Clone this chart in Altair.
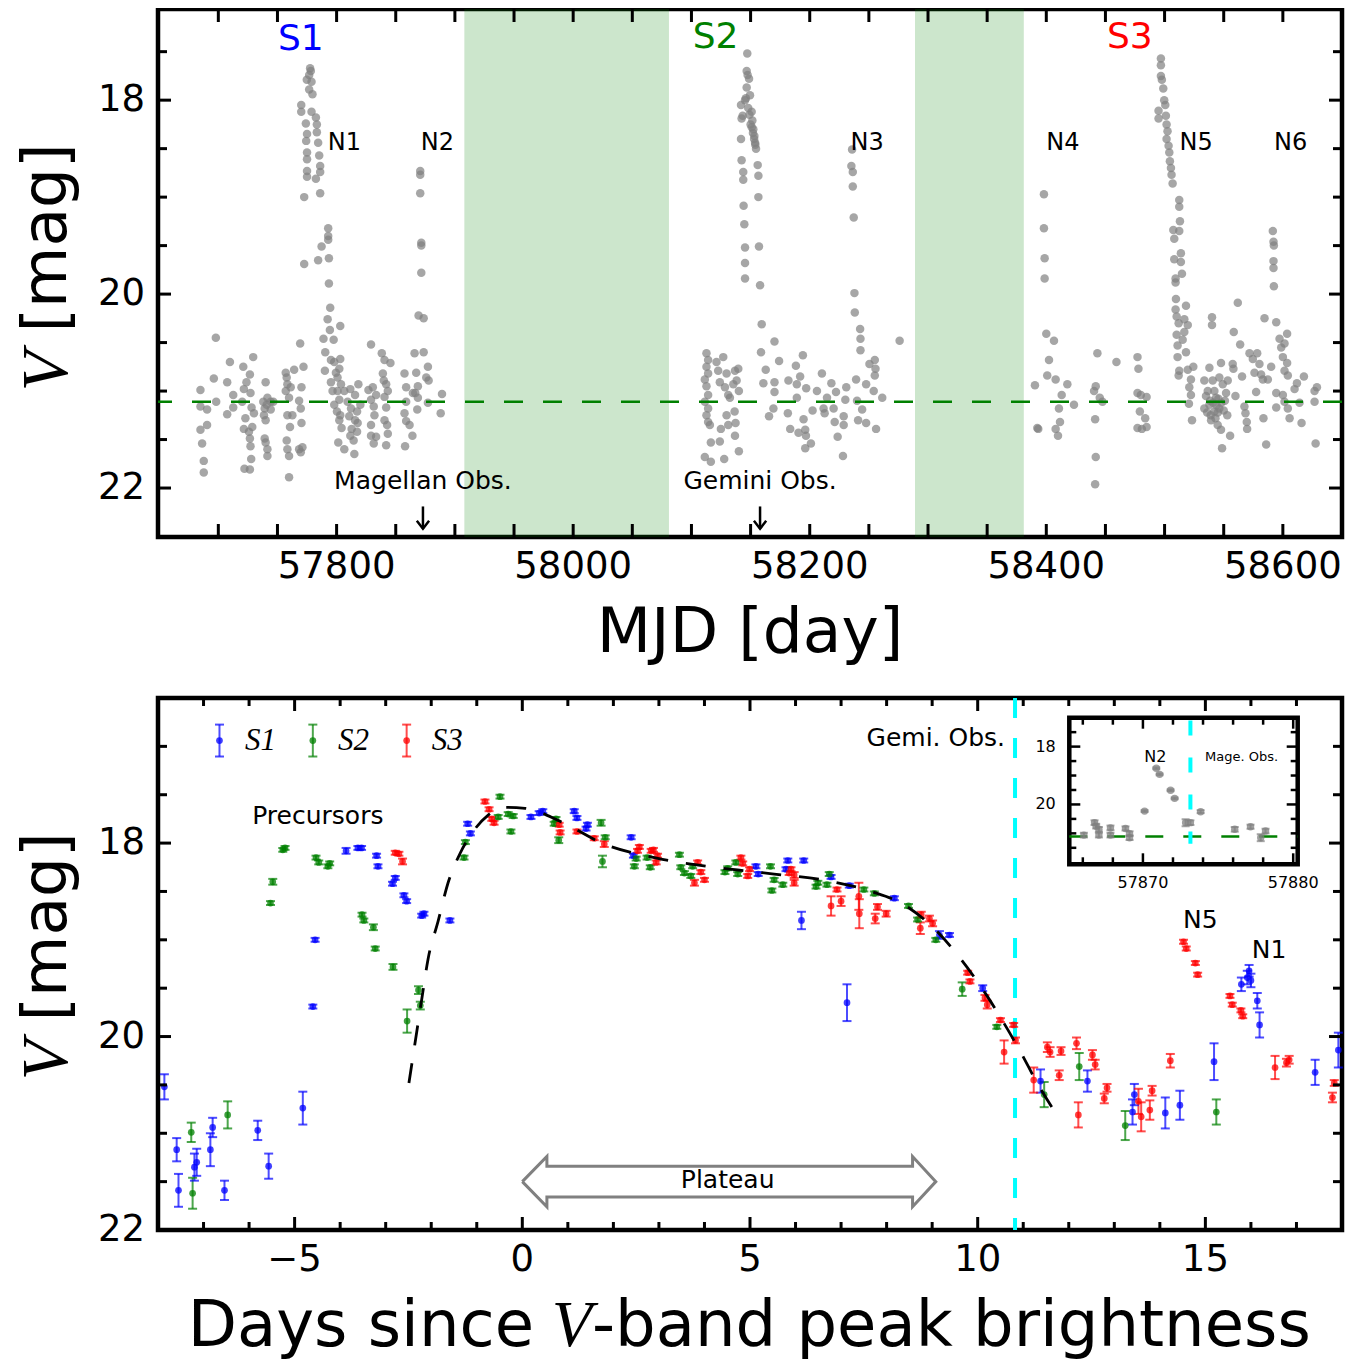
import altair as alt
import pandas as pd

W, H1, H2 = 1184, 528, 532
FONT = "DejaVu Sans"
SERIF = "Liberation Serif"

# ---------------- top panel data (MJD, V mag) ----------------
season1 = [
    (57684.9, 20.99), (57684.9, 21.16), (57690.5, 21.19), (57684.9, 21.40), (57690.5, 21.35), (57686.3, 21.54),
    (57687.7, 21.72), (57687.7, 21.84), (57696.2, 20.87), (57697.9, 20.45), (57698.2, 21.11), (57707.5, 20.91),
    (57707.5, 21.24), (57709.8, 20.70), (57712.6, 21.04), (57712.6, 21.17), (57721.1, 20.75), (57720.2, 21.11),
    (57721.6, 20.98), (57722.9, 21.28), (57721.6, 21.39), (57722.1, 21.80), (57723.8, 20.91), (57726.7, 20.83),
    (57727.2, 21.02), (57726.7, 21.81), (57728.1, 21.17), (57728.7, 21.37), (57725.9, 21.42), (57727.2, 21.57),
    (57727.8, 21.70), (57729.5, 20.65), (57730.1, 21.23), (57726.7, 21.49), (57738.0, 21.11), (57740.0, 20.91),
    (57739.2, 21.18), (57738.6, 21.25), (57740.0, 21.30), (57740.9, 21.14), (57741.5, 21.07), (57739.2, 21.49),
    (57740.0, 21.53), (57741.5, 21.60), (57741.5, 21.67), (57744.3, 21.19), (57746.5, 21.11), (57744.3, 21.11),
    (57757.0, 20.81), (57757.8, 20.86), (57758.4, 20.93), (57757.0, 21.00), (57759.8, 21.07), (57761.2, 20.96),
    (57758.4, 21.25), (57760.6, 21.37), (57757.8, 21.51), (57758.4, 21.60), (57759.8, 21.67), (57759.8, 21.89),
    (57764.1, 20.78), (57762.6, 21.25), (57769.2, 20.51), (57772.0, 20.75), (57770.3, 20.96), (57768.3, 21.10),
    (57769.7, 21.18), (57770.3, 21.33), (57768.3, 21.60), (57769.7, 21.63), (57771.1, 21.58),
    (57777.6, 17.67), (57778.2, 17.70), (57776.8, 17.74), (57778.8, 17.81), (57774.8, 17.79), (57776.8, 17.89),
    (57779.6, 17.94), (57770.1, 18.05), (57770.1, 18.12), (57778.8, 18.12), (57782.5, 18.18), (57783.3, 18.25),
    (57774.0, 18.24), (57783.3, 18.33), (57775.0, 18.35), (57774.3, 18.42), (57784.4, 18.44), (57775.0, 18.54),
    (57785.3, 18.57), (57775.0, 18.61), (57786.1, 18.68), (57775.0, 18.73), (57786.1, 18.74), (57775.0, 18.79),
    (57782.5, 18.81), (57786.1, 18.96), (57772.6, 19.00), (57772.6, 19.69), (57784.4, 19.65), (57787.3, 19.51),
    (57792.9, 19.32), (57792.9, 19.40), (57792.9, 19.44), (57793.5, 19.63), (57793.5, 19.89), (57794.6, 20.14),
    (57792.4, 20.26), (57794.3, 20.37), (57788.9, 20.46), (57797.5, 20.47), (57803.1, 20.33), (57790.4, 20.60),
    (57795.2, 20.68), (57790.1, 20.79), (57798.0, 20.70), (57803.1, 20.67), (57795.2, 20.91), (57796.6, 21.00),
    (57799.4, 20.81), (57802.3, 20.77), (57800.8, 20.86), (57803.7, 20.93), (57800.8, 21.00), (57802.3, 21.09),
    (57798.0, 21.14), (57800.3, 21.21), (57803.1, 21.25), (57802.3, 21.30), (57804.2, 21.38), (57801.4, 21.53),
    (57806.5, 21.60), (57806.5, 21.00), (57809.3, 21.11), (57811.6, 20.98), (57812.2, 21.18), (57810.7, 21.26),
    (57812.7, 21.39), (57811.6, 21.46), (57814.4, 21.51), (57815.0, 21.65), (57815.6, 21.04), (57817.3, 21.21),
    (57817.8, 21.33), (57818.4, 20.93), (57820.1, 21.14), (57815.6, 21.30), (57817.3, 21.42), (57829.1, 20.52),
    (57826.9, 20.99), (57829.1, 21.09), (57830.6, 20.96), (57831.4, 21.16), (57832.0, 21.25), (57829.1, 21.35),
    (57829.1, 21.46), (57831.4, 21.54), (57833.4, 21.47), (57833.4, 21.04), (57838.2, 20.61), (57839.1, 20.82),
    (57839.9, 20.89), (57840.5, 20.68), (57841.9, 20.93), (57840.5, 21.06), (57841.9, 21.17), (57840.5, 21.30),
    (57842.7, 21.35), (57843.3, 21.44), (57841.9, 21.56), (57845.5, 20.71), (57843.3, 21.00), (57857.4, 20.82),
    (57858.8, 20.96), (57858.8, 21.11), (57857.4, 21.23), (57858.8, 21.31), (57861.7, 21.35), (57857.9, 21.57),
    (57864.1, 21.46), (57865.9, 20.61), (57867.3, 20.81), (57868.7, 20.95), (57866.5, 21.02), (57868.7, 21.07),
    (57868.2, 21.19), (57873.6, 20.60), (57875.8, 20.86), (57877.2, 20.75), (57877.8, 20.89), (57877.2, 21.12),
    (57864.5, 21.02), (57870.7, 18.73), (57870.7, 18.77), (57870.7, 18.96), (57871.6, 19.47), (57871.6, 19.50),
    (57871.6, 19.78), (57869.3, 20.22), (57873.6, 20.25), (57889.1, 21.03), (57888.0, 21.23),
]
season2 = [
    (58112.7, 20.61), (58114.1, 20.68), (58112.7, 20.75), (58114.1, 20.82), (58111.3, 20.88), (58112.7, 20.95),
    (58114.1, 21.04), (58111.3, 21.11), (58114.1, 21.18), (58112.7, 21.25), (58114.1, 21.32), (58115.6, 21.35),
    (58111.3, 21.68), (58116.4, 21.73), (58116.4, 21.53), (58121.2, 20.70), (58122.6, 20.79), (58124.0, 20.91),
    (58126.9, 20.65), (58128.3, 20.96), (58129.7, 20.82), (58131.1, 21.04), (58132.5, 21.07), (58124.9, 21.39),
    (58124.0, 21.52), (58127.7, 21.70), (58129.7, 21.25), (58131.1, 21.35), (58136.8, 20.79), (58138.2, 20.89),
    (58139.6, 20.77), (58140.1, 21.00), (58136.5, 21.21), (58137.3, 21.33), (58136.8, 21.46), (58140.1, 21.62),
    (58135.4, 20.93),
    (58147.2, 17.52), (58146.7, 17.70), (58147.5, 17.74), (58148.7, 17.78), (58146.7, 17.87), (58149.5, 17.95),
    (58145.3, 18.00), (58141.9, 18.05), (58143.3, 18.16), (58150.9, 18.12), (58142.4, 18.19), (58151.5, 18.21),
    (58152.3, 18.30), (58153.2, 18.37), (58153.8, 18.44), (58154.6, 18.50), (58141.9, 18.40), (58142.4, 18.62),
    (58143.8, 18.74), (58143.8, 18.82), (58156.0, 18.67), (58156.6, 18.78), (58156.6, 19.00), (58144.1, 19.09),
    (58144.7, 19.28), (58157.1, 19.51), (58145.3, 19.52), (58145.3, 19.68), (58145.3, 19.84), (58158.0, 19.91),
    (58159.4, 20.31), (58158.8, 20.60), (58150.0, 18.25), (58151.0, 18.28), (58152.0, 18.34), (58153.0, 18.40),
    (58154.0, 18.46), (58148.0, 18.08), (58149.0, 18.15), (58146.0, 17.98),
    (58162.8, 20.78), (58160.8, 20.92), (58170.2, 20.49), (58169.3, 21.18), (58165.6, 21.26), (58170.2, 20.91),
    (58170.2, 21.01), (58174.1, 20.69), (58182.0, 20.89), (58181.5, 21.23), (58183.5, 21.39), (58188.3, 20.74),
    (58189.1, 20.93), (58189.1, 21.07), (58191.9, 20.85), (58194.2, 20.63), (58197.0, 20.97), (58190.5, 21.43),
    (58194.8, 21.29), (58196.2, 21.40), (58196.8, 21.46), (58196.2, 21.59), (58201.0, 21.54), (58202.4, 21.20),
    (58206.1, 21.00), (58210.3, 20.82), (58211.7, 21.18), (58212.6, 21.23), (58214.6, 21.07), (58218.3, 20.92),
    (58220.2, 21.18), (58221.1, 21.32), (58222.2, 21.01), (58223.6, 21.47), (58228.7, 21.26), (58228.7, 21.35),
    (58230.1, 21.09), (58230.9, 20.96), (58228.1, 21.67),
    (58235.8, 18.51), (58235.2, 18.68), (58236.4, 18.74), (58236.4, 18.89), (58237.2, 19.21), (58237.8, 19.99),
    (58238.1, 20.19), (58242.6, 20.36), (58242.9, 20.46), (58242.9, 20.58), (58239.2, 20.88), (58240.0, 21.10),
    (58244.3, 21.19), (58240.9, 21.30), (58247.7, 21.33), (58247.7, 20.93), (58250.5, 20.72), (58255.0, 20.68),
    (58255.6, 20.77), (58255.0, 20.84), (58254.1, 21.00), (58261.3, 21.07), (58256.1, 21.39), (58276.0, 20.48),
]
season3 = [
    (58390.4, 20.94), (58392.4, 21.38), (58393.2, 21.39), (58398.0, 18.97), (58398.0, 19.32), (58398.6, 19.63),
    (58398.6, 19.84), (58400.0, 20.41), (58400.8, 20.84), (58402.3, 20.68), (58406.5, 20.48), (58407.9, 20.88),
    (58410.7, 21.18), (58413.0, 21.04), (58411.6, 21.32), (58407.9, 21.39), (58409.9, 21.46), (58417.8, 20.93),
    (58423.4, 21.14), (58440.4, 21.00), (58441.8, 20.95), (58443.2, 20.61), (58445.2, 21.07), (58447.5, 21.11),
    (58441.3, 21.29), (58441.8, 21.68), (58441.3, 21.96), (58459.3, 20.70), (58477.1, 20.65), (58477.9, 20.77),
    (58477.1, 21.02), (58479.9, 21.04), (58479.1, 21.21), (58484.8, 21.06), (58483.6, 21.28), (58484.8, 21.37),
    (58477.1, 21.38), (58480.8, 21.39),
    (58496.9, 17.57), (58496.9, 17.64), (58496.9, 17.75), (58497.7, 17.79), (58498.9, 17.88), (58499.7, 18.00),
    (58500.6, 18.05), (58494.9, 18.11), (58494.9, 18.19), (58501.1, 18.16), (58501.7, 18.25), (58502.5, 18.32),
    (58501.7, 18.40), (58503.4, 18.47), (58504.0, 18.54), (58504.5, 18.63), (58505.4, 18.70), (58505.9, 18.77),
    (58506.8, 18.86), (58512.4, 19.03), (58512.4, 19.10), (58513.0, 19.25), (58507.4, 19.34), (58512.4, 19.35),
    (58508.2, 19.43), (58513.8, 19.58), (58508.2, 19.64), (58513.8, 19.67), (58514.7, 19.79), (58509.3, 19.84),
    (58509.3, 19.88), (58509.6, 20.05), (58509.3, 20.16), (58510.2, 20.23), (58511.9, 20.30), (58518.1, 20.12),
    (58516.7, 20.26), (58519.6, 20.32), (58516.7, 20.39), (58510.2, 20.42), (58515.3, 20.47), (58511.0, 20.53),
    (58518.1, 20.60), (58511.0, 20.65), (58512.4, 20.79), (58511.9, 20.84), (58519.6, 20.78), (58524.3, 20.75),
    (58522.3, 20.88), (58520.9, 20.96), (58522.3, 21.04), (58520.6, 21.13), (58523.2, 21.30), (58540.1, 20.24),
    (58540.1, 20.32), (58533.6, 20.89), (58537.9, 20.76), (58536.5, 21.00), (58540.7, 20.89), (58542.1, 21.00),
    (58543.5, 21.07), (58537.9, 21.14), (58533.6, 21.18), (58546.3, 20.86), (58547.7, 20.71), (58549.2, 20.93),
    (58546.3, 21.18), (58542.1, 21.21), (58539.3, 21.30), (58544.9, 21.35), (58547.7, 21.40), (58548.6, 21.59),
    (58552.0, 21.02), (58553.4, 20.89), (58555.4, 21.46), (58557.6, 20.72), (58558.2, 20.77), (58559.9, 21.05),
    (58558.5, 20.39), (58535.0, 21.05), (58538.5, 21.10), (58541.0, 21.12), (58544.0, 21.15), (58545.5, 21.08),
    (58548.0, 21.12), (58550.0, 21.20), (58536.0, 21.22), (58539.0, 21.25), (58543.0, 21.28), (58545.0, 21.22),
    (58551.0, 21.10), (58553.0, 21.25),
    (58561.9, 20.09), (58563.9, 20.52), (58565.5, 20.85), (58567.5, 21.16), (58568.4, 21.23), (58569.5, 21.32),
    (58569.8, 21.39), (58571.8, 20.61), (58574.6, 20.67), (58576.0, 20.81), (58577.4, 21.01), (58578.3, 20.61),
    (58580.2, 20.72), (58581.6, 20.83), (58583.1, 20.88), (58583.6, 21.28), (58585.9, 21.55), (58587.3, 20.88),
    (58584.5, 20.25), (58590.1, 20.75),
    (58591.5, 19.35), (58592.1, 19.46), (58592.4, 19.50), (58592.1, 19.66), (58592.1, 19.73), (58592.4, 19.92),
    (58594.4, 20.29), (58594.4, 21.02), (58594.4, 21.17), (58597.2, 20.46), (58598.6, 20.55), (58600.0, 20.65),
    (58601.4, 20.51), (58603.6, 20.41), (58601.4, 20.79), (58603.6, 20.71), (58604.2, 20.84), (58600.0, 21.04),
    (58601.4, 21.11), (58604.2, 21.18), (58605.7, 21.28), (58609.9, 20.98), (58611.9, 20.92), (58614.1, 21.12),
    (58615.8, 21.33), (58617.8, 20.85), (58626.8, 21.00), (58628.8, 20.96), (58626.8, 21.11), (58627.7, 21.54),
]
shade_start = [57908, 58289]
shade_end = [58081, 58381]
quiescent_mag = 21.11
season_names = ["S1", "S2", "S3"]
season_colors = ["#0000ff", "#008000", "#ff0000"]
season_lbl_mjd = [57769.7, 58120.4, 58470.6]
season_lbl_mag = [17.37, 17.35, 17.35]
nova_names = ["N1", "N2", "N3", "N4", "N5", "N6"]
nova_mjd = [57806.5, 57885.2, 58248.5, 58414.1, 58526.6, 58606.5]
nova_mag = [18.44] * 6
obs_names = ["Magellan Obs.", "Gemini Obs."]
obs_mjd = [57873.0, 58158.0]
obs_text_mag = [21.93, 21.93]
obs_arrow_top = [22.19, 22.19]
obs_arrow_tip = [22.42, 22.42]
top_xtick_labels = ["57800", "58000", "58200", "58400", "58600"]
top_xtick_vals = [57800, 58000, 58200, 58400, 58600]
ytick_labels = ["18", "20", "22"]
ytick_vals = [18, 20, 22]

# ---------------- bottom panel data (days since peak, V mag, err) ----------------
s1_lc = [
    (-7.86, 20.52, 0.13), (-7.59, 21.17, 0.12), (-7.55, 21.59, 0.17), (-7.20, 21.35, 0.14), (-7.15, 21.30, 0.14),
    (-6.85, 21.17, 0.17), (-6.80, 20.94, 0.10), (-6.54, 21.59, 0.10), (-5.81, 20.97, 0.10), (-5.57, 21.34, 0.13),
    (-4.82, 20.74, 0.17), (-4.60, 19.69, 0.02), (-4.55, 19.00, 0.02), (-3.87, 18.08, 0.03), (-3.61, 18.05, 0.02),
    (-3.53, 18.05, 0.02), (-3.20, 18.13, 0.02), (-3.17, 18.24, 0.02), (-2.85, 18.42, 0.02), (-2.79, 18.36, 0.02),
    (-2.60, 18.54, 0.02), (-2.54, 18.60, 0.02), (-2.21, 18.75, 0.02), (-2.16, 18.73, 0.02), (-1.59, 18.80, 0.02),
    (-1.20, 17.80, 0.02), (-1.14, 17.90, 0.02), (0.19, 17.73, 0.02), (0.37, 17.69, 0.02), (0.45, 17.67, 0.02),
    (1.14, 17.67, 0.02), (1.20, 17.74, 0.02), (1.40, 17.85, 0.02), (1.43, 17.81, 0.02), (2.39, 17.94, 0.02),
    (2.44, 18.13, 0.02), (5.13, 18.24, 0.02), (5.18, 18.32, 0.02), (5.79, 18.27, 0.02), (5.83, 18.18, 0.02),
    (6.18, 18.18, 0.02), (6.13, 18.80, 0.09), (6.78, 18.35, 0.02), (7.13, 19.65, 0.19), (7.18, 18.44, 0.02),
    (8.17, 18.57, 0.02), (9.16, 18.95, 0.04), (9.38, 18.95, 0.02), (10.11, 19.50, 0.03), (11.38, 20.46, 0.12),
    (12.41, 20.46, 0.11), (13.40, 20.78, 0.13), (13.44, 20.60, 0.11), (14.12, 20.79, 0.16), (14.44, 20.71, 0.15),
    (15.19, 20.26, 0.19), (15.79, 19.46, 0.07), (15.92, 19.39, 0.07), (15.96, 19.32, 0.06), (16.00, 19.42, 0.07),
    (16.14, 19.63, 0.08), (16.19, 19.88, 0.13), (17.41, 20.37, 0.13), (17.92, 20.14, 0.18),
]
s2_lc = [
    (-7.27, 20.99, 0.10), (-7.24, 21.62, 0.16), (-6.47, 20.81, 0.14), (-5.53, 18.62, 0.02), (-5.48, 18.40, 0.03),
    (-5.26, 18.07, 0.02), (-5.21, 18.05, 0.02), (-4.53, 18.15, 0.02), (-4.47, 18.20, 0.02), (-4.27, 18.24, 0.02),
    (-4.23, 18.21, 0.02), (-3.52, 18.74, 0.02), (-3.48, 18.80, 0.02), (-3.27, 18.87, 0.03), (-3.23, 19.09, 0.02),
    (-2.84, 19.28, 0.03), (-2.53, 19.84, 0.12), (-2.28, 19.52, 0.04), (-2.24, 19.68, 0.04), (-1.28, 18.15, 0.02),
    (-1.25, 17.99, 0.02), (-0.53, 17.73, 0.02), (-0.49, 17.52, 0.02), (-0.31, 17.70, 0.02), (-0.25, 17.88, 0.02),
    (-0.20, 17.72, 0.02), (0.70, 17.80, 0.02), (0.74, 17.75, 0.02), (0.80, 17.97, 0.03), (1.73, 17.79, 0.03),
    (1.76, 18.19, 0.06), (1.82, 17.94, 0.02), (2.46, 18.24, 0.02), (2.50, 18.16, 0.02), (2.74, 18.15, 0.02),
    (2.81, 18.25, 0.02), (3.45, 18.12, 0.02), (3.48, 18.25, 0.02), (3.56, 18.31, 0.02), (3.70, 18.34, 0.02),
    (3.74, 18.24, 0.02), (4.45, 18.30, 0.02), (4.51, 18.26, 0.02), (4.69, 18.20, 0.02), (4.73, 18.32, 0.02),
    (5.45, 18.24, 0.02), (5.48, 18.49, 0.02), (5.53, 18.38, 0.02), (5.72, 18.43, 0.02), (6.45, 18.45, 0.02),
    (6.49, 18.41, 0.02), (6.69, 18.43, 0.02), (6.74, 18.32, 0.02), (7.50, 18.48, 0.02), (7.73, 18.52, 0.02),
    (8.48, 18.65, 0.02), (8.68, 18.79, 0.02), (9.08, 19.00, 0.02), (9.66, 19.51, 0.07), (10.42, 19.90, 0.02),
    (11.46, 20.60, 0.13), (12.23, 20.31, 0.14), (13.24, 20.92, 0.15), (15.24, 20.78, 0.13),
]
s3_lc = [
    (-2.79, 18.10, 0.02), (-2.71, 18.11, 0.02), (-2.63, 18.19, 0.03), (-0.82, 17.57, 0.02), (-0.73, 17.65, 0.02),
    (-0.67, 17.75, 0.02), (-0.62, 17.79, 0.02), (0.81, 17.81, 0.02), (0.83, 17.89, 0.02), (1.20, 17.88, 0.02),
    (1.58, 17.95, 0.02), (1.80, 18.01, 0.03), (2.53, 18.08, 0.02), (2.57, 18.04, 0.02), (2.83, 18.08, 0.02),
    (2.88, 18.07, 0.02), (2.94, 18.20, 0.02), (2.97, 18.13, 0.02), (3.78, 18.41, 0.03), (3.85, 18.20, 0.02),
    (3.92, 18.30, 0.02), (4.00, 18.38, 0.02), (4.80, 18.15, 0.02), (4.84, 18.21, 0.02), (4.95, 18.34, 0.02),
    (4.99, 18.27, 0.02), (5.86, 18.31, 0.02), (5.90, 18.27, 0.02), (5.97, 18.33, 0.03), (5.97, 18.41, 0.03),
    (6.78, 18.65, 0.10), (6.91, 18.48, 0.02), (7.00, 18.60, 0.05), (7.39, 18.55, 0.14), (7.40, 18.73, 0.15),
    (7.75, 18.78, 0.05), (7.80, 18.66, 0.03), (7.99, 18.73, 0.03), (8.74, 18.88, 0.06), (8.76, 18.74, 0.03),
    (8.94, 18.78, 0.03), (9.01, 18.83, 0.03), (9.78, 19.34, 0.02), (9.83, 19.43, 0.02), (10.16, 19.60, 0.03),
    (10.21, 19.67, 0.04), (10.50, 19.83, 0.02), (10.58, 20.16, 0.12), (10.79, 19.88, 0.02), (10.83, 20.04, 0.03),
    (11.23, 20.45, 0.13), (11.53, 20.11, 0.05), (11.59, 20.16, 0.05), (11.79, 20.40, 0.05), (11.83, 20.15, 0.04),
    (12.17, 20.07, 0.06), (12.21, 20.81, 0.13), (12.52, 20.19, 0.05), (12.58, 20.29, 0.05), (12.78, 20.64, 0.05),
    (12.84, 20.53, 0.04), (13.53, 20.67, 0.13), (13.59, 20.83, 0.15), (13.78, 20.76, 0.10), (13.83, 20.56, 0.05),
    (14.23, 20.25, 0.07), (14.52, 19.02, 0.02), (14.58, 19.09, 0.02), (14.78, 19.24, 0.02), (14.83, 19.36, 0.02),
    (15.54, 19.58, 0.02), (15.59, 19.67, 0.02), (15.78, 19.73, 0.02), (15.82, 19.79, 0.02), (16.53, 20.32, 0.12),
    (16.78, 20.27, 0.04), (16.84, 20.24, 0.04), (17.79, 20.63, 0.05), (17.83, 20.48, 0.03),
]
template_t = [-2.49, -2.36, -2.21, -2.07, -1.85, -1.63, -1.37, -1.08, -0.75, -0.38, 0.06, 0.85, 1.80, 2.90,
              4.22, 5.53, 6.71, 7.66, 8.39, 9.12, 9.63, 10.22, 10.51, 10.93, 11.33, 11.84]
template_m = [20.48, 20.08, 19.62, 19.20, 18.81, 18.41, 18.11, 17.88, 17.71, 17.63, 17.64, 17.78, 18.01, 18.15,
              18.25, 18.32, 18.39, 18.50, 18.64, 18.92, 19.20, 19.59, 19.81, 20.15, 20.50, 20.88]
gemini_t = 10.82
plateau_t = [0.0, 0.54, 0.54, 8.57, 8.57, 9.08, 8.57, 8.57, 0.54, 0.54, 0.0]
plateau_m = [21.50, 21.24, 21.34, 21.34, 21.24, 21.50, 21.76, 21.66, 21.66, 21.76, 21.50]
legend_icon_t = [-6.65, -4.60, -2.54]
legend_text_t = [-6.09, -4.05, -1.99]
legend_mag = 16.94
legend_err = 0.165
bot_xtick_labels = ["\u22125", "0", "5", "10", "15"]
bot_xtick_vals = [-5, 0, 5, 10, 15]

# ---------------- inset data (MJD, V mag, err) ----------------
inset_pts = [
    (57866.07, 21.06, 0.08), (57866.78, 20.63, 0.08), (57866.89, 20.75, 0.08), (57867.07, 20.86, 0.08),
    (57867.07, 21.06, 0.08), (57867.84, 20.81, 0.08), (57867.84, 21.06, 0.08), (57868.84, 20.83, 0.07),
    (57869.11, 21.01, 0.08), (57869.11, 21.15, 0.08), (57870.11, 20.23, 0.03), (57870.89, 18.75, 0.03),
    (57871.11, 18.96, 0.03), (57871.84, 19.51, 0.03), (57872.11, 19.79, 0.03), (57872.84, 20.63, 0.12),
    (57873.16, 20.63, 0.08), (57873.84, 20.25, 0.05), (57876.11, 20.86, 0.08), (57877.16, 20.77, 0.07),
    (57877.84, 21.15, 0.12), (57878.16, 20.92, 0.08),
]
inset_x_dom = [57865.1, 57880.3]
inset_y_dom = [17.0, 22.07]
mage_mjd = 57873.16


# ---------------- helpers ----------------
def edge_ticks(vals, orient, length, xs, ys, w, h, sw=3):
    base = alt.Chart(pd.DataFrame({"v": vals})).mark_rule(color="black", strokeWidth=sw)
    if orient in ("bottom", "top"):
        y0, y1 = (h, h - length) if orient == "bottom" else (0, length)
        return base.encode(x=alt.X("v:Q", scale=xs, axis=None), y=alt.value(y0), y2=alt.value(y1))
    x0, x1 = (0, length) if orient == "left" else (w, w - length)
    return base.encode(y=alt.Y("v:Q", scale=ys, axis=None), x=alt.value(x0), x2=alt.value(x1))


def x_labels(vals, labels, xs, h):
    return alt.Chart(pd.DataFrame({"v": vals, "t": labels})).mark_text(
        font=FONT, fontSize=37, align="center", baseline="middle", color="black").encode(
        x=alt.X("v:Q", scale=xs, axis=None), y=alt.value(h + 30), text="t:N")


def y_labels(vals, labels, ys):
    return alt.Chart(pd.DataFrame({"v": vals, "t": labels})).mark_text(
        font=FONT, fontSize=37, align="right", baseline="middle", color="black").encode(
        y=alt.Y("v:Q", scale=ys, axis=None), x=alt.value(-13), text="t:N")


def ytitle_layers(y_mag, y_v):
    t1 = alt.Chart(pd.DataFrame({"t": ["[mag]"]})).mark_text(
        font=FONT, fontSize=63, angle=270, align="center", baseline="middle", color="black"
    ).encode(x=alt.value(-111), y=alt.value(y_mag), text="t:N")
    t2 = alt.Chart(pd.DataFrame({"t": ["V"]})).mark_text(
        font=SERIF, fontStyle="italic", fontSize=66, angle=270, align="center", baseline="middle", color="black"
    ).encode(x=alt.value(-111), y=alt.value(y_v), text="t:N")
    return [t1, t2]


# ================= TOP PANEL =================
xs_top = alt.Scale(domain=[57649, 58650], nice=False, zero=False)
ys_top = alt.Scale(domain=[17.06, 22.505], reverse=True, nice=False, zero=False)
XT = alt.X("x:Q", scale=xs_top, axis=None)

top_df = pd.DataFrame(season1 + season2 + season3, columns=["x", "mag"])

shade = alt.Chart(pd.DataFrame({"a": shade_start, "b": shade_end})).mark_rect(color="green", opacity=0.2).encode(
    x=alt.X("a:Q", scale=xs_top, axis=None), x2="b:Q", y=alt.value(0), y2=alt.value(H1))
pts_top = alt.Chart(top_df).mark_circle(size=72, color="gray", opacity=0.7).encode(
    x=XT, y=alt.Y("mag:Q", scale=ys_top, axis=None))
qline_top = alt.Chart(pd.DataFrame({"m": [quiescent_mag]})).mark_rule(
    color="green", strokeWidth=2.7, strokeDash=[19, 20]).encode(y=alt.Y("m:Q", scale=ys_top, axis=None))
slbl = alt.Chart(pd.DataFrame({"t": season_names, "x": season_lbl_mjd, "y": season_lbl_mag, "c": season_colors})
                 ).mark_text(font=FONT, fontSize=36, align="center", baseline="middle").encode(
    x=XT, y=alt.Y("y:Q", scale=ys_top, axis=None), text="t:N", color=alt.Color("c:N", scale=None))
nlbl = alt.Chart(pd.DataFrame({"t": nova_names, "x": nova_mjd, "y": nova_mag})).mark_text(
    font=FONT, fontSize=24, align="center", baseline="middle", color="black").encode(
    x=XT, y=alt.Y("y:Q", scale=ys_top, axis=None), text="t:N")
obs_df = pd.DataFrame({"t": obs_names, "x": obs_mjd, "ty": obs_text_mag, "a0": obs_arrow_top, "a1": obs_arrow_tip})
obs_txt = alt.Chart(obs_df).mark_text(font=FONT, fontSize=25, align="center", baseline="middle", color="black").encode(
    x=XT, y=alt.Y("ty:Q", scale=ys_top, axis=None), text="t:N")
obs_stem = alt.Chart(obs_df).mark_rule(color="black", strokeWidth=2.5).encode(
    x=XT, y=alt.Y("a0:Q", scale=ys_top, axis=None), y2="a1:Q")
obs_head = alt.Chart(obs_df).mark_point(shape="M-1,-1.3L0,0L1,-1.3", filled=False, size=150, strokeWidth=2.5,
                                        color="black", opacity=1).encode(
    x=XT, y=alt.Y("a1:Q", scale=ys_top, axis=None))
mjd_title = alt.Chart(pd.DataFrame({"t": ["MJD [day]"]})).mark_text(
    font=FONT, fontSize=63, align="center", baseline="alphabetic", color="black").encode(
    x=alt.value(W / 2), y=alt.value(H1 + 115), text="t:N")

xt_top = [57700 + 50 * i for i in range(19)]
yt_major = [18, 20, 22]
yt_minor_top = [17.5, 18.5, 19, 19.5, 20.5, 21, 21.5]
top_layers = [shade, pts_top, qline_top, slbl, nlbl, obs_txt, obs_stem, obs_head,
              edge_ticks(xt_top, "bottom", 13, xs_top, ys_top, W, H1),
              edge_ticks(xt_top, "top", 13, xs_top, ys_top, W, H1),
              edge_ticks(yt_major, "left", 13, xs_top, ys_top, W, H1),
              edge_ticks(yt_major, "right", 13, xs_top, ys_top, W, H1),
              edge_ticks(yt_minor_top, "left", 9, xs_top, ys_top, W, H1),
              edge_ticks(yt_minor_top, "right", 9, xs_top, ys_top, W, H1),
              x_labels(top_xtick_vals, top_xtick_labels, xs_top, H1),
              y_labels(ytick_vals, ytick_labels, ys_top),
              mjd_title] + ytitle_layers(229, 362)
top = alt.layer(*top_layers).properties(width=W, height=H1)

# ================= BOTTOM PANEL =================
xs_bot = alt.Scale(domain=[-8.0, 18.0], nice=False, zero=False)
ys_bot = alt.Scale(domain=[16.5, 22.0], reverse=True, nice=False, zero=False)
color_enc = alt.Color("series:N", scale=alt.Scale(domain=season_names, range=season_colors), legend=None)

rows = []
for name, lc in zip(season_names, [s1_lc, s2_lc, s3_lc]):
    for t, m, e in lc:
        rows.append({"series": name, "t": t, "m": m, "lo": m - e, "hi": m + e})
lc_df = pd.DataFrame(rows)
caps_df = pd.concat([lc_df.assign(cap=lc_df["lo"]), lc_df.assign(cap=lc_df["hi"])])
XB = alt.X("t:Q", scale=xs_bot, axis=None)

cyan = alt.Chart(pd.DataFrame({"t": [gemini_t]})).mark_rule(color="#00ffff", strokeWidth=4, strokeDash=[20, 20]).encode(x=XB)
err_rule = alt.Chart(lc_df).mark_rule(strokeWidth=2, opacity=0.7).encode(
    x=XB, y=alt.Y("lo:Q", scale=ys_bot, axis=None), y2="hi:Q", color=color_enc)
err_caps = alt.Chart(caps_df).mark_tick(orient="horizontal", size=9, thickness=2, opacity=0.7).encode(
    x=XB, y=alt.Y("cap:Q", scale=ys_bot, axis=None), color=color_enc)
pts_bot = alt.Chart(lc_df).mark_circle(size=45, opacity=0.75).encode(
    x=XB, y=alt.Y("m:Q", scale=ys_bot, axis=None), color=color_enc)
tmpl = alt.Chart(pd.DataFrame({"t": template_t, "m": template_m})).mark_line(
    color="black", strokeWidth=2.8, strokeDash=[20, 18], interpolate="monotone").encode(
    x=XB, y=alt.Y("m:Q", scale=ys_bot, axis=None))
plateau = alt.Chart(pd.DataFrame({"t": plateau_t, "m": plateau_m, "i": list(range(len(plateau_t)))})).mark_line(
    color="gray", strokeWidth=3, strokeJoin="miter").encode(x=XB, y=alt.Y("m:Q", scale=ys_bot, axis=None), order="i:Q")

ann_df = pd.DataFrame({
    "txt": ["Precursors", "Plateau", "N5", "N1"],
    "t": [-4.49, 4.51, 14.89, 16.40],
    "m": [17.72, 21.48, 18.80, 19.11],
})
ann = alt.Chart(ann_df).mark_text(font=FONT, fontSize=25, align="center", baseline="middle", color="black").encode(
    x=XB, y=alt.Y("m:Q", scale=ys_bot, axis=None), text="txt:N")
gemi = alt.Chart(pd.DataFrame({"txt": ["Gemi. Obs."], "t": [10.60], "m": [16.91]})).mark_text(
    font=FONT, fontSize=25, align="right", baseline="middle", color="black").encode(
    x=XB, y=alt.Y("m:Q", scale=ys_bot, axis=None), text="txt:N")

leg_df = pd.DataFrame({"series": season_names, "t": legend_icon_t, "tx": legend_text_t,
                       "m": [legend_mag] * 3, "lo": [legend_mag - legend_err] * 3, "hi": [legend_mag + legend_err] * 3})
leg_caps = pd.concat([leg_df.assign(cap=leg_df["lo"]), leg_df.assign(cap=leg_df["hi"])])
leg_rule = alt.Chart(leg_df).mark_rule(strokeWidth=2, opacity=0.7).encode(
    x=XB, y=alt.Y("lo:Q", scale=ys_bot, axis=None), y2="hi:Q", color=color_enc)
leg_cap = alt.Chart(leg_caps).mark_tick(orient="horizontal", size=9, thickness=2, opacity=0.7).encode(
    x=XB, y=alt.Y("cap:Q", scale=ys_bot, axis=None), color=color_enc)
leg_pt = alt.Chart(leg_df).mark_circle(size=45, opacity=0.75).encode(
    x=XB, y=alt.Y("m:Q", scale=ys_bot, axis=None), color=color_enc)
leg_txt = alt.Chart(leg_df).mark_text(font=SERIF, fontStyle="italic", fontSize=31, align="left",
                                      baseline="middle", color="black").encode(
    x=alt.X("tx:Q", scale=xs_bot, axis=None), y=alt.Y("m:Q", scale=ys_bot, axis=None), text="series:N")

xt1 = alt.Chart(pd.DataFrame({"t": ["Days since"]})).mark_text(
    font=FONT, fontSize=64, align="right", baseline="alphabetic", color="black").encode(
    x=alt.value(376), y=alt.value(H2 + 116), text="t:N")
xt2 = alt.Chart(pd.DataFrame({"t": ["V"]})).mark_text(
    font=SERIF, fontStyle="italic", fontSize=66, align="center", baseline="alphabetic", color="black").encode(
    x=alt.value(414), y=alt.value(H2 + 116), text="t:N")
xt3 = alt.Chart(pd.DataFrame({"t": ["-band peak brightness"]})).mark_text(
    font=FONT, fontSize=64, align="left", baseline="alphabetic", color="black").encode(
    x=alt.value(434), y=alt.value(H2 + 116), text="t:N")

xb_major = [-5, 0, 5, 10, 15]
xb_minor = [v for v in range(-7, 18) if v % 5 != 0]
yb_major = [18, 20]
yb_minor = [17, 17.5, 18.5, 19, 19.5, 20.5, 21, 21.5]

main_bottom = alt.layer(
    cyan, err_rule, err_caps, pts_bot, tmpl, plateau, ann, gemi, leg_rule, leg_cap, leg_pt, leg_txt,
    edge_ticks(xb_major, "bottom", 13, xs_bot, ys_bot, W, H2),
    edge_ticks(xb_major, "top", 13, xs_bot, ys_bot, W, H2),
    edge_ticks(xb_minor, "bottom", 8, xs_bot, ys_bot, W, H2),
    edge_ticks(xb_minor, "top", 8, xs_bot, ys_bot, W, H2),
    edge_ticks(yb_major, "left", 13, xs_bot, ys_bot, W, H2),
    edge_ticks(yb_major, "right", 13, xs_bot, ys_bot, W, H2),
    edge_ticks(yb_minor, "left", 9, xs_bot, ys_bot, W, H2),
    edge_ticks(yb_minor, "right", 9, xs_bot, ys_bot, W, H2),
    x_labels(bot_xtick_vals, bot_xtick_labels, xs_bot, H2),
    y_labels(ytick_vals, ytick_labels, ys_bot),
    xt1, xt2, xt3, *ytitle_layers(229, 362),
)

# ---- inset (own scales mapped onto a sub-rectangle of the bottom panel) ----
IX0, IX1, IY0, IY1 = 911.3, 1139.7, 19.7, 166.3
ixs = alt.Scale(domain=inset_x_dom, range=[IX0, IX1], nice=False, zero=False)
iys = alt.Scale(domain=inset_y_dom, range=[IY0, IY1], nice=False, zero=False)
px_per_day = (IX1 - IX0) / (inset_x_dom[1] - inset_x_dom[0])
px_per_mag = (IY1 - IY0) / (inset_y_dom[1] - inset_y_dom[0])


def IX(f):
    return alt.X(f, scale=ixs, axis=None)


def IY(f):
    return alt.Y(f, scale=iys, axis=None)


frame = alt.Chart(pd.DataFrame({"x0": [inset_x_dom[0]], "x1": [inset_x_dom[1]],
                                "y0": [inset_y_dom[0]], "y1": [inset_y_dom[1]]})).mark_rect(
    fill="white", stroke="black", strokeWidth=4.5).encode(x=IX("x0:Q"), x2="x1:Q", y=IY("y0:Q"), y2="y1:Q")

itick_rows_x = []
for v in [57866, 57868, 57870, 57872, 57874, 57876, 57878, 57880]:
    L = (11 if v in (57870, 57880) else 7) / px_per_mag
    itick_rows_x.append({"v": v, "a": inset_y_dom[1], "b": inset_y_dom[1] - L})
    itick_rows_x.append({"v": v, "a": inset_y_dom[0], "b": inset_y_dom[0] + L})
itick_rows_y = []
for v in [17.5, 18, 18.5, 19, 19.5, 20, 20.5, 21, 21.5]:
    L = (11 if v in (18, 20) else 7) / px_per_day
    itick_rows_y.append({"v": v, "a": inset_x_dom[0], "b": inset_x_dom[0] + L})
    itick_rows_y.append({"v": v, "a": inset_x_dom[1], "b": inset_x_dom[1] - L})
iticks_x = alt.Chart(pd.DataFrame(itick_rows_x)).mark_rule(color="black", strokeWidth=2.5).encode(
    x=IX("v:Q"), y=IY("a:Q"), y2="b:Q")
iticks_y = alt.Chart(pd.DataFrame(itick_rows_y)).mark_rule(color="black", strokeWidth=2.5).encode(
    y=IY("v:Q"), x=IX("a:Q"), x2="b:Q")
iq = alt.Chart(pd.DataFrame({"a": [inset_x_dom[0]], "b": [inset_x_dom[1]], "m": [quiescent_mag]})).mark_rule(
    color="green", strokeWidth=2.5, strokeDash=[18, 20]).encode(x=IX("a:Q"), x2="b:Q", y=IY("m:Q"))
icyan = alt.Chart(pd.DataFrame({"x": [mage_mjd], "a": [17.1], "b": [21.36]})).mark_rule(
    color="#00ffff", strokeWidth=4, strokeDash=[15, 22]).encode(x=IX("x:Q"), y=IY("a:Q"), y2="b:Q")
ins_df = pd.DataFrame(inset_pts, columns=["x", "m", "e"])
ins_df["lo"] = ins_df["m"] - ins_df["e"]
ins_df["hi"] = ins_df["m"] + ins_df["e"]
ins_caps = pd.concat([ins_df.assign(cap=ins_df["lo"]), ins_df.assign(cap=ins_df["hi"])])
ierr = alt.Chart(ins_df).mark_rule(color="gray", strokeWidth=2, opacity=0.7).encode(x=IX("x:Q"), y=IY("lo:Q"), y2="hi:Q")
icap = alt.Chart(ins_caps).mark_tick(orient="horizontal", size=8, thickness=2, color="gray", opacity=0.7).encode(
    x=IX("x:Q"), y=IY("cap:Q"))
ipts = alt.Chart(ins_df).mark_circle(size=55, color="gray", opacity=0.75).encode(x=IX("x:Q"), y=IY("m:Q"))
itxt = alt.Chart(pd.DataFrame({"t": ["N2", "Mage. Obs."], "x": [57870.82, 57876.56], "m": [18.35, 18.36],
                               "fs": [16, 13]})).mark_text(font=FONT, align="center", baseline="middle",
                                                           color="black").encode(
    x=IX("x:Q"), y=IY("m:Q"), text="t:N", size=alt.Size("fs:Q", scale=None))
ixlab = alt.Chart(pd.DataFrame({"t": ["57870", "57880"], "x": [57870, 57880], "m": [22.72, 22.72]})).mark_text(
    font=FONT, fontSize=16, align="center", baseline="middle", color="black").encode(
    x=IX("x:Q"), y=IY("m:Q"), text="t:N")
iylab = alt.Chart(pd.DataFrame({"t": ["18", "20"], "x": [57864.2, 57864.2], "m": [18.0, 20.0]})).mark_text(
    font=FONT, fontSize=16, align="right", baseline="middle", color="black").encode(
    x=IX("x:Q"), y=IY("m:Q"), text="t:N")

inset = alt.layer(frame, iq, icyan, ierr, icap, ipts, iticks_x, iticks_y, itxt, ixlab, iylab)

bottom = alt.layer(main_bottom, inset).resolve_scale(x="independent", y="independent").properties(width=W, height=H2)

chart = alt.vconcat(top, bottom, spacing=161, bounds="flush").resolve_scale(
    x="independent", y="independent").properties(
    padding={"left": 3, "top": -3, "right": 5, "bottom": 0}
).configure_view(stroke="black", strokeWidth=4.5)

chart.save("out.html", embed_options={"renderer": "svg", "actions": False})
